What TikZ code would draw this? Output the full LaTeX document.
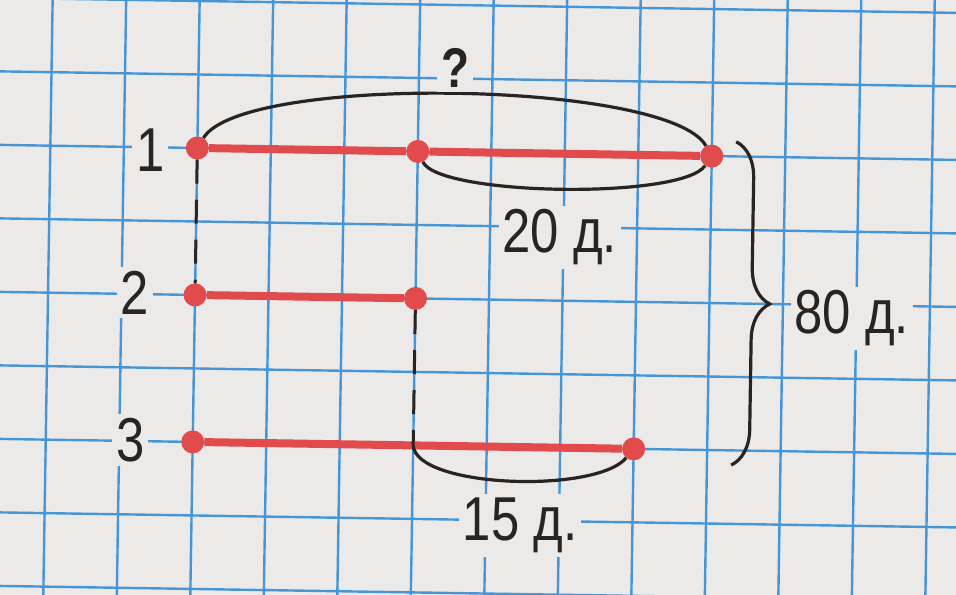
\documentclass[tikz,border=0pt]{standalone}
\usepackage{fontspec}
\setmainfont{Liberation Sans}
\newfontfamily\narrowsans[FakeStretch=0.82]{Liberation Sans}
\usetikzlibrary{calc, positioning, decorations.pathreplacing}
\definecolor{paper}{RGB}{236,233,233}
\definecolor{gridblue}{RGB}{70,150,215}
\definecolor{segred}{RGB}{225,75,75}
\definecolor{ink}{RGB}{40,36,36}

\begin{document}
\begin{tikzpicture}[x=73.5pt, y=-73.5pt]
    % Estilos
    \tikzstyle{reddot} = [circle, fill=segred, minimum size=23pt, inner sep=0pt]
    \tikzstyle{redline} = [draw, line width=8pt, color=segred]
    \tikzstyle{bow} = [draw, line width=3.2pt, color=ink]
    \tikzstyle{dashline} = [draw, line width=3pt, color=ink, dash pattern=on 24pt off 16pt]
    \tikzstyle{numtext} = [fill=paper, text=ink, inner sep=4pt, font=\narrowsans\fontsize{62}{66}\selectfont]
    \tikzstyle{gridline} = [draw, line width=2.4pt, color=gridblue]

    % Fundo e limites
    \useasboundingbox (-2.653,-2.068) rectangle (10.354,6.027);
    \fill[paper] (-2.653,-2.068) rectangle (10.354,6.027);
    \clip (-2.653,-2.068) rectangle (10.354,6.027);

    \begin{scope}[rotate around={-0.9:(3.5,2)}]
    % Quadriculado
    \foreach \i in {-3,...,11} \path[gridline] (\i,-3) -- (\i,7);
    \foreach \j in {-3,...,7} \path[gridline] (-3,\j) -- (11,\j);

    % Pontos dos segmentos
    \node[reddot] (r1a) at (0,0) {};
    \node[reddot] (r1b) at (3,0) {};
    \node[reddot] (r1c) at (7,0) {};
    \node[reddot] (r2a) at (0,2) {};
    \node[reddot] (r2b) at (3,2) {};
    \node[reddot] (r3a) at (0,4) {};
    \node[reddot] (r3b) at (6,4) {};
    \coordinate (r3m) at (3,4);

    % Segmentos
    \path[redline] (r1a) -- (r1b);
    \path[redline] (r1b) -- (r1c);
    \path[redline] (r2a) -- (r2b);
    \path[redline] (r3a) -- (r3b);

    % Linhas tracejadas
    \path[dashline] (r1a) -- (r2a);
    \path[dashline] (r2b) -- (r3m);

    % Arcos
    \path[bow] (r1a) .. controls (0.6,-1.02) and (6.4,-1.02) .. (r1c);
    \path[bow] (r1b) .. controls (3.3,0.6) and (6.6,0.6) .. (r1c);
    \path[bow] (r3m) .. controls (3.05,4.58) and (5.5,4.62) .. (r3b);

    % Chave
    \coordinate (bracetop) at (7.33,-0.2);
    \coordinate (bracebot) at (7.33,4.2);
    \path[bow, decorate, decoration={brace, amplitude=36pt}] (bracetop) -- (bracebot);

    % Textos
    \node[numtext] (n1) at (-0.64,0.04) {1};
    \node[numtext] (n2) at (-0.82,1.98) {2};
    \node[numtext] (n3) at (-0.85,3.99) {3};
    \node[numtext, font=\narrowsans\fontsize{56}{60}\selectfont\bfseries] (ask) at (3.49,-1.14) {?};
    \node[numtext] (d20) at (4.95,1.14) {20 д.};
    \node[numtext] (d80) at (8.94,2.18) {80 д.};
    \node[numtext] (d15) at (4.47,5.07) {15 д.};
    \end{scope}
\end{tikzpicture}
\end{document}
